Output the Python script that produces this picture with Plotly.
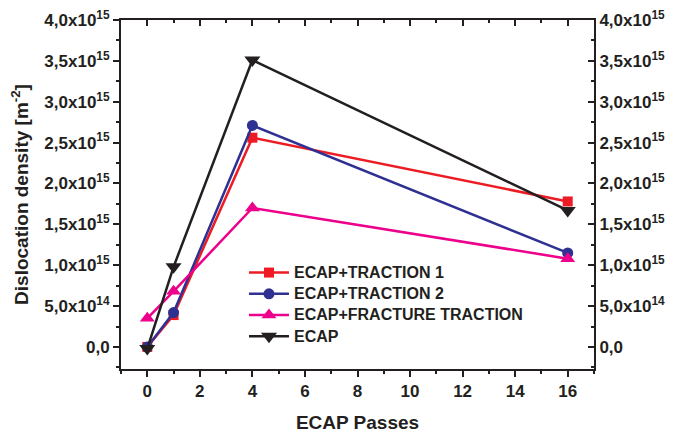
import plotly.graph_objects as go

passes = [0, 1, 4, 16]
traction1 = [0.0, 0.39e15, 2.56e15, 1.78e15]
traction2 = [0.0, 0.42e15, 2.71e15, 1.15e15]
fracture = [0.35e15, 0.68e15, 1.70e15, 1.08e15]
ecap = [-0.02e15, 0.98e15, 3.51e15, 1.67e15]

names = ["ECAP+TRACTION 1", "ECAP+TRACTION 2", "ECAP+FRACTURE TRACTION", "ECAP"]
colors = ["#ED1C24", "#2E3192", "#EC008C", "#231F20"]
symbols = ["square", "circle", "triangle-up", "triangle-down"]
sizes = [10, 11, 13, 14]
series = [traction1, traction2, fracture, ecap]

ytick_vals = [0, 0.5e15, 1.0e15, 1.5e15, 2.0e15, 2.5e15, 3.0e15, 3.5e15, 4.0e15]
ytick_text = ["<b>0,0</b>", "<b>5,0x10<sup>14</sup></b>", "<b>1,0x10<sup>15</sup></b>",
              "<b>1,5x10<sup>15</sup></b>", "<b>2,0x10<sup>15</sup></b>", "<b>2,5x10<sup>15</sup></b>",
              "<b>3,0x10<sup>15</sup></b>", "<b>3,5x10<sup>15</sup></b>", "<b>4,0x10<sup>15</sup></b>"]
xtick_vals = [0, 2, 4, 6, 8, 10, 12, 14, 16]
xtick_text = ["<b>%d</b>" % v for v in xtick_vals]

yrange = [-0.27e15, 4.0e15]
xrange_ = [-1, 17]

fig = go.Figure()
for name, c, s, sz, ys in zip(names, colors, symbols, sizes, series):
    fig.add_trace(go.Scatter(x=passes, y=ys, mode="lines+markers",
                             name='<span style="font-size:16px">%s</span>' % name,
                             line=dict(color=c, width=2.5),
                             marker=dict(symbol=s, size=sz, color=c)))
# dummy trace to anchor the mirror axes
fig.add_trace(go.Scatter(x=[None], y=[None], xaxis="x2", yaxis="y2", showlegend=False,
                         hoverinfo="skip"))

FAM = "Liberation Sans, Arial"
INK = "#231F20"
axis_common = dict(showgrid=False, zeroline=False, showline=True, linecolor=INK,
                   linewidth=2, tickcolor=INK, tickwidth=2, automargin=False,
                   ticklabeloverflow="allow")

fig.update_layout(
    width=686, height=432,
    margin=dict(l=113, r=100, t=12, b=71),
    paper_bgcolor="white", plot_bgcolor="white",
    font=dict(family=FAM, color=INK),
    showlegend=True,
    legend=dict(x=0.26, y=0.321, xanchor="left", yanchor="top",
                bgcolor="rgba(0,0,0,0)", tracegroupgap=0,
                font=dict(family=FAM, size=14, color=INK, weight="bold"),
                itemwidth=40),
    xaxis=dict(range=xrange_, tickvals=xtick_vals, ticktext=xtick_text, ticks="outside", ticklen=6,
               minor=dict(ticks="outside", dtick=1, tick0=1, ticklen=3, tickcolor=INK, tickwidth=2),
               title=dict(text="<b>ECAP Passes</b>", font=dict(size=19, family=FAM)),
               **axis_common),
    yaxis=dict(range=yrange, tickvals=ytick_vals, ticktext=ytick_text, ticks="outside", ticklen=6,
               minor=dict(ticks="outside", dtick=0.25e15, tick0=0, ticklen=3, tickcolor=INK, tickwidth=2),
               title=dict(text="<b>Dislocation density [m<sup>-2</sup>]</b>", font=dict(size=19, family=FAM)),
               **axis_common),
    xaxis2=dict(range=xrange_, overlaying="x", side="top", anchor="y", tickvals=xtick_vals,
                showticklabels=False, ticks="inside", ticklen=6,
                minor=dict(ticks="inside", dtick=1, tick0=1, ticklen=3, tickcolor=INK, tickwidth=2),
                **axis_common),
    yaxis2=dict(range=yrange, overlaying="y", side="right", anchor="x", tickvals=ytick_vals,
                ticktext=ytick_text, ticks="inside", ticklen=6,
                minor=dict(ticks="inside", dtick=0.25e15, tick0=0, ticklen=3, tickcolor=INK, tickwidth=2),
                **axis_common),
)
fig.update_xaxes(tickfont=dict(family=FAM, size=17, color=INK))
fig.update_yaxes(tickfont=dict(family=FAM, size=17, color=INK))

fig.write_html("out.html")
